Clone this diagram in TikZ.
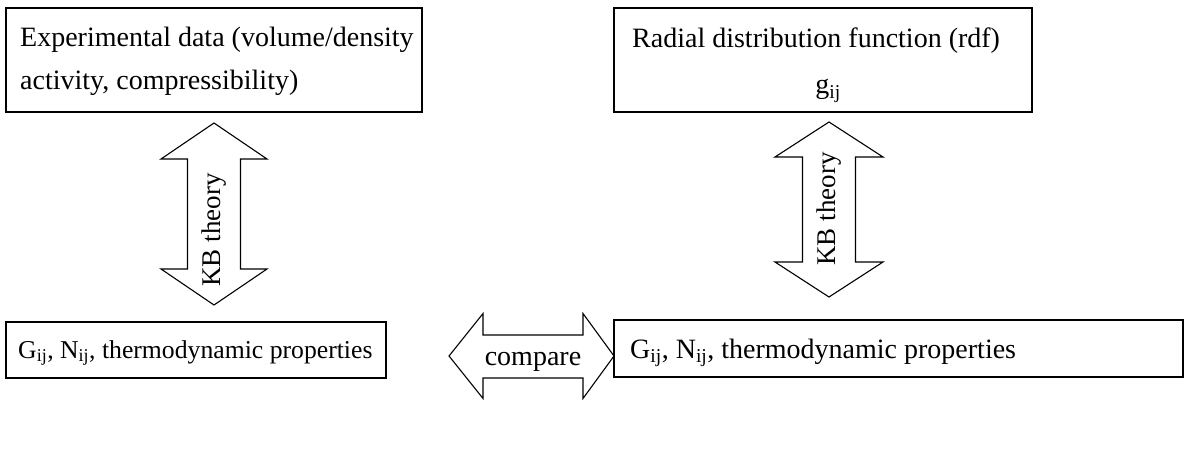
\documentclass[tikz,border=0pt]{standalone}
\usepackage{fontspec}
\setmainfont{Liberation Serif}
\begin{document}
\begin{tikzpicture}[x=1pt,y=-1pt,
  boxline/.style={draw=black,line width=1.7pt},
  blockarrow/.style={draw=black,line width=1.1pt,line join=miter,fill=white},
  txt/.style={inner sep=0pt,font=\fontsize{28}{28}\selectfont},
  txtb/.style={inner sep=0pt,font=\fontsize{25.7}{25.7}\selectfont},
  txtk/.style={inner sep=0pt,font=\fontsize{27}{27}\selectfont}]
\useasboundingbox (0,0) rectangle (1188,449);
% boxes
\draw[boxline] (6,8) rectangle (422,112);
\draw[boxline] (614,8) rectangle (1032,112);
\draw[boxline] (6,322) rectangle (386,378);
\draw[boxline] (614,320) rectangle (1183,377);
% texts in boxes
\node[txt,anchor=base west] (e1) at (20,47) {Experimental data (volume/density};
\node[txt,anchor=base west] (e2) at (20,90) {activity, compressibility)};
\node[txt,anchor=base west] (r1) at (632,48) {Radial distribution function (rdf)};
\node[txt,anchor=base] (r2) at (828,94) {g\textsubscript{ij}};
\node[txtb,anchor=base west] (g1) at (18,358) {G\textsubscript{ij}, N\textsubscript{ij}, thermodynamic properties};
\node[txt,anchor=base west] (g2) at (630,358) {G\textsubscript{ij}, N\textsubscript{ij}, thermodynamic properties};
% left KB arrow
\draw[blockarrow] (214,123) -- (267,159) -- (240.5,159) -- (240.5,269) -- (267,269)
  -- (214,305) -- (161,269) -- (187.5,269) -- (187.5,159) -- (161,159) -- cycle;
\node[txtk,rotate=90] (kb1) at (214,230) {KB theory};
% right KB arrow
\draw[blockarrow] (829,122) -- (883,157) -- (855.5,157) -- (855.5,262) -- (883,262)
  -- (829,297) -- (775,262) -- (802.5,262) -- (802.5,157) -- (775,157) -- cycle;
\node[txtk,rotate=90] (kb2) at (829,209) {KB theory};
% compare arrow
\draw[blockarrow] (449,356) -- (483,313.5) -- (483,335) -- (583,335) -- (583,313.5)
  -- (614,356) -- (583,398.5) -- (583,378) -- (483,378) -- (483,398.5) -- cycle;
\node[txt,anchor=base] (cmp) at (533,365) {compare};
\end{tikzpicture}
\end{document}
